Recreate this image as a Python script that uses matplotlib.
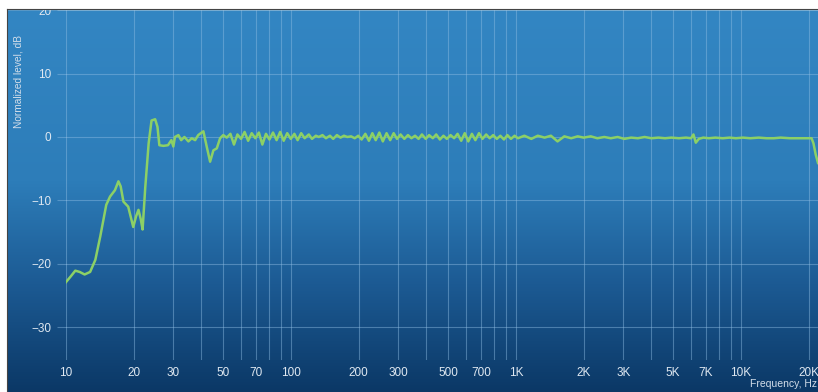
import numpy as np
import matplotlib.pyplot as plt
from matplotlib.colors import LinearSegmentedColormap
from matplotlib.patches import Rectangle
from matplotlib.lines import Line2D

plt.rcParams['font.family'] = ['Liberation Sans', 'DejaVu Sans']

# frequency response (Hz, dB)
freq_low = [10, 10.5, 11, 11.5, 12.1, 12.8, 13.5, 14.2, 15.1, 15.7, 16.5, 17.1,
            17.5, 18.0, 18.9, 19.9, 20.5, 21.0, 21.5, 21.9, 22.5, 23.3, 24.0,
            24.9, 25.5, 26.0, 27.1, 28.4, 29.4, 30.0, 30.5, 31.6, 32.5, 33.6,
            35.0, 36.2, 37.5, 38.7, 40.8, 42.2, 43.7, 45.2, 46.8, 48.4]
level_low = [-22.9, -22.0, -21.1, -21.3, -21.7, -21.3, -19.4, -15.7, -10.7, -9.4,
             -8.4, -7.0, -7.8, -10.2, -11.0, -14.2, -12.5, -11.5, -13.0, -14.6,
             -8.0, -1.0, 2.6, 2.8, 1.6, -1.3, -1.4, -1.3, -0.5, -1.5, 0.0, 0.3,
             -0.5, 0.0, -0.7, -0.2, -0.5, 0.3, 0.9, -1.5, -3.9, -2.1, -1.8, -0.2]

freq_mid = [50, 51.8, 53.8, 55.8, 57.8, 60, 62.2, 64.5, 66.9, 69.4, 72, 74.6,
            77.4, 80.2, 83.2, 86.3, 89.5, 92.8, 96.2, 99.8, 103.5, 107, 111, 115,
            120, 124, 129, 133, 138, 143, 149, 154, 160, 166, 172, 178, 185, 192,
            199, 206, 214, 222, 230, 238, 247, 256, 266, 276, 286, 296, 307, 319,
            331, 343, 356, 369, 382, 397, 411, 427, 442, 459, 476, 493, 512, 531,
            550, 571, 592, 614, 637, 660, 685, 710, 737, 764, 792, 822, 852, 884,
            916, 950, 986, 1020]
level_mid = [0.3, -0.1, 0.5, -1.2, 0.4, -0.3, 0.8, -0.6, 0.6, -0.2, 0.7, -1.2,
             0.5, -0.4, 0.7, -0.5, 0.8, -0.6, 0.6, -0.3, 0.5, -0.5, 0.6, -0.2,
             0.4, -0.3, 0.2, 0.0, 0.3, -0.2, 0.2, -0.3, 0.3, -0.1, 0.2, 0.0, 0.1,
             -0.2, 0.2, -0.4, 0.5, -0.6, 0.6, -0.5, 0.7, -0.7, 0.6, -0.5, 0.6,
             -0.3, 0.4, -0.3, 0.3, -0.2, 0.2, -0.3, 0.4, -0.3, 0.3, -0.2, 0.4,
             -0.4, 0.2, -0.3, 0.3, -0.2, 0.5, -0.6, 0.6, -0.7, 0.5, -0.5, 0.6,
             -0.3, 0.4, -0.2, 0.3, -0.3, 0.2, -0.4, 0.3, -0.3, 0.2, -0.2]

freq_high = [1090, 1170, 1250, 1340, 1430, 1530, 1640, 1760, 1880, 2000, 2150,
             2300, 2470, 2640, 2830, 3030, 3250, 3480, 3730, 4000, 4300, 4600,
             4900, 5300, 5700, 6000, 6150, 6300, 6500, 6800, 7200, 7700, 8300,
             8900, 9500, 10200, 11000, 12000, 13000, 14000, 15000, 16500, 18000,
             19500, 20600, 21000, 21500, 22000]
level_high = [0.2, -0.3, 0.2, -0.1, 0.2, -0.7, 0.1, -0.2, 0.1, -0.1, 0.1, -0.2,
              0.0, -0.2, 0.0, -0.3, -0.1, -0.2, 0.0, -0.2, -0.1, -0.2, -0.1,
              -0.2, -0.1, -0.2, 0.4, -0.9, -0.3, -0.1, -0.2, -0.1, -0.2, -0.1,
              -0.2, -0.1, -0.2, -0.1, -0.2, -0.2, -0.1, -0.2, -0.2, -0.2, -0.2,
              -1.0, -2.8, -4.1]

xtick_labels = {10: '10', 20: '20', 30: '30', 50: '50', 70: '70', 100: '100',
                200: '200', 300: '300', 500: '500', 700: '700', 1000: '1K',
                2000: '2K', 3000: '3K', 5000: '5K', 7000: '7K', 10000: '10K',
                20000: '20K'}
yticks = [-30, -20, -10, 0, 10, 20]

freq = np.array(freq_low + freq_mid + freq_high)
level = np.array(level_low + level_mid + level_high)

W, H = 818, 392
fig = plt.figure(figsize=(W / 100, H / 100), dpi=100)
fig.patch.set_facecolor('white')

# gradient background
cmap = LinearSegmentedColormap.from_list('bg', [(0, '#3386c3'), (0.45, '#2d7db9'),
                                                 (0.72, '#1c5a93'), (1, '#0b3866')])
bg = fig.add_axes([7 / W, 0, 1 - 7 / W, 383 / H])
bg.imshow(np.linspace(0, 1, 256).reshape(-1, 1), aspect='auto', cmap=cmap,
          extent=[0, 1, 0, 1])
bg.axis('off')

ax = fig.add_axes([66 / W, 32 / H, 1 - 66 / W, 351 / H])
ax.set_facecolor('none')
ax.set_xscale('log')
ax.set_xlim(10, 22000)
ax.set_ylim(-35.2, 20.2)

grid_freqs = [m * 10 ** e for e in range(1, 5) for m in range(1, 10)
              if m * 10 ** e <= 20000]
ax.set_xticks(grid_freqs)
ax.set_xticklabels([xtick_labels.get(f, '') for f in grid_freqs])
ax.xaxis.set_minor_locator(plt.NullLocator())
ax.set_yticks(yticks)

grid_col = '#8fbde3'
ax.grid(True, color=grid_col, lw=0.8, alpha=0.45)
ax.tick_params(axis='x', length=0, pad=5, colors='#dfe8f1', labelsize=8.5)
ax.tick_params(axis='y', length=6.5, width=0.8, color=(0.56, 0.74, 0.89, 0.45),
               pad=4, labelcolor='#dfe8f1', labelsize=8.5)
for s in ax.spines.values():
    s.set_visible(False)

ax.plot(freq, level, color='#8cd066', lw=1.8, solid_joinstyle='round', zorder=3)

fig.text(19 / W, 1 - 82 / H, 'Normalized level, dB', rotation=90, ha='center',
         va='center', color='#d3deea', fontsize=7.3)
fig.text(817 / W, 1 - 384 / H, 'Frequency, Hz', ha='right', va='center',
         color='#d3deea', fontsize=7.5)

# white margin and thin frame at top/left
fig.patches.append(Rectangle((0, 383 / H), 1, 9 / H, transform=fig.transFigure,
                             color='white', zorder=5))
fig.patches.append(Rectangle((0, 0), 6 / W, 1, transform=fig.transFigure,
                             color='white', zorder=5))
fig.add_artist(Line2D([6.5 / W, 1], [383.5 / H, 383.5 / H], color='#444444',
                      lw=0.8, zorder=6))
fig.add_artist(Line2D([6.5 / W, 6.5 / W], [0, 383.5 / H], color='#444444',
                      lw=0.8, zorder=6))

fig.savefig('out.png', dpi=100)
